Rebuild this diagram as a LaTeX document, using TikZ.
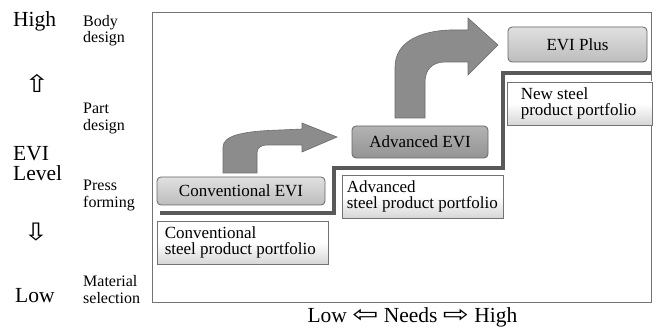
\documentclass[tikz,border=0pt]{standalone}
\usepackage{fontspec}
\setmainfont{Liberation Serif}
\newfontfamily\arrowglyphs{DejaVu Sans}
\usetikzlibrary{shadings}
\begin{document}
\begin{tikzpicture}[x=1pt,y=-1pt,
  evibox/.style={draw=black!60, line width=0.8pt, rounded corners=4pt, inner sep=0pt,
    font=\fontsize{17}{16}\selectfont},
  lightevi/.style={evibox, top color=black!12, bottom color=black!26},
  darkevi/.style={evibox, top color=black!30, bottom color=black!42},
  portbox/.style={draw=black!55, line width=0.8pt, inner sep=0pt,
    top color=white, bottom color=black!16, middle color=white},
  porttext/.style={anchor=west, align=left, inner sep=0pt, font=\fontsize{17}{16}\selectfont},
  sidelab/.style={anchor=west, align=left, inner sep=0pt, font=\fontsize{16}{16.5}\selectfont},
  biglab/.style={inner sep=0pt, font=\fontsize{21.5}{20}\selectfont},
  vertarrow/.style={inner sep=0pt, font=\fontsize{24}{24}\arrowglyphs\selectfont},
  bentarrow/.style={fill=black!45, draw=black!58, line width=0.6pt},
  stepline/.style={draw=black!65, line width=4pt},
]
\useasboundingbox (0,0) rectangle (656,331);

% frame
\node[draw=black!55, line width=0.8pt, minimum width=499pt, minimum height=290pt, inner sep=0pt]
  (frame) at (401.5,157) {};

% left labels
\node[biglab, anchor=base west] (high) at (13,27) {High};
\node[vertarrow] (up) at (37,83) {\scalebox{1.25}[1]{⇧}};
\node[biglab, anchor=west, align=left] (evi) at (13,164) {EVI\\Level};
\node[vertarrow] (down) at (36,232) {\scalebox{1.25}[1]{⇩}};
\node[biglab, anchor=base west] (low) at (15,302) {Low};

\node[sidelab] (body) at (83,30.5) {Body\\design};
\node[sidelab] (part) at (83,118.5) {Part\\design};
\node[sidelab] (press) at (83,195.5) {Press\\forming};
\node[sidelab] (mat) at (83,289.5) {Material\\selection};

% step line
\coordinate (s0) at (160,213);
\coordinate (s1) at (334,168);
\coordinate (s2) at (503,73);
\coordinate (s3) at (651,73);
\draw[stepline] (s0) -| (s1) -| (s2) -- (s3);

% boxes
\node[lightevi, minimum width=168pt, minimum height=28pt] (conv) at (241,191) {Conventional EVI};
\node[darkevi, minimum width=136pt, minimum height=32pt] (adv) at (420,142) {Advanced EVI};
\node[lightevi, minimum width=139pt, minimum height=35pt] (plus) at (577.5,44.5) {EVI Plus};

\node[portbox, minimum width=171pt, minimum height=43pt] (convp) at (242.5,242.5) {};
\node[porttext] (convpt) at ([xshift=8pt]convp.west) {Conventional\\steel product portfolio};
\node[portbox, minimum width=161pt, minimum height=43pt] (advp) at (422.5,196.5) {};
\node[porttext] (advpt) at ([xshift=5pt]advp.west) {Advanced\\steel product portfolio};
\node[portbox, minimum width=145pt, minimum height=43pt] (newp) at (579.5,103.5) {};
\node[porttext] (newpt) at ([xshift=14pt]newp.west) {New steel\\product portfolio};

% bent arrows
\draw[bentarrow] (223,173) -- (223,147) .. controls (223,135) and (245,131) .. (280,130)
  -- (302,129) -- (302,123) -- (337,137) -- (302,152) -- (302,145) -- (268,145)
  .. controls (260,145) and (257,148) .. (257,153) -- (257,173) -- cycle;
\draw[bentarrow] (395,118) -- (395,67) .. controls (395,42) and (420,31) .. (450,30)
  -- (468,30) -- (468,18) -- (498,45) -- (468,75) -- (468,62) -- (445,62)
  .. controls (432,62) and (425,70) .. (425,82) -- (425,118) -- cycle;

% bottom label
\node[biglab, anchor=base] (needs) at (412.5,322)
  {Low {\arrowglyphs\raisebox{-0.5pt}{\scalebox{1.45}[1.1]{⇦}}} Needs {\arrowglyphs\raisebox{-0.5pt}{\scalebox{1.45}[1.1]{⇨}}} High};
\end{tikzpicture}
\end{document}
